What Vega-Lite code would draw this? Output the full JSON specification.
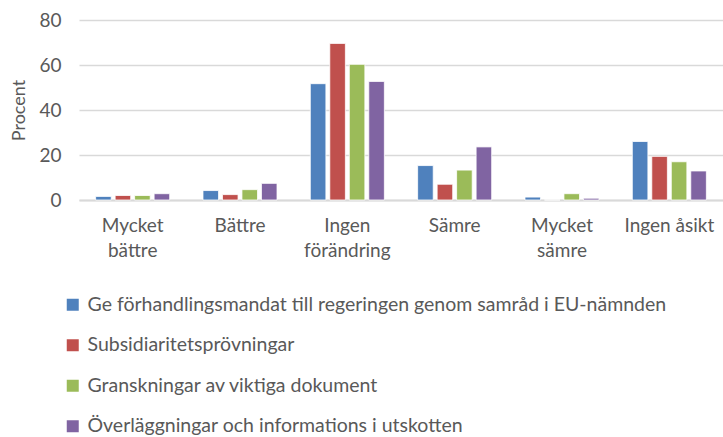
{
  "$schema": "https://vega.github.io/schema/vega-lite/v6.json",
  "width": 644,
  "height": 180,
  "autosize": {"type": "none"},
  "padding": {"left": 79, "top": 20, "right": 0, "bottom": 237},
  "background": "white",
  "config": {
    "font": "Lato",
    "view": {"stroke": null},
    "axis": {"labelFont": "Lato", "titleFont": "Lato", "labelColor": "#595959", "titleColor": "#595959"}
  },
  "data": {
    "values": [
      {"kategori": "Mycket bättre", "serie": "Ge förhandlingsmandat till regeringen genom samråd i EU-nämnden", "procent": 1.6},
      {"kategori": "Mycket bättre", "serie": "Subsidiaritetsprövningar", "procent": 2.0},
      {"kategori": "Mycket bättre", "serie": "Granskningar av viktiga dokument", "procent": 2.0},
      {"kategori": "Mycket bättre", "serie": "Överläggningar och informations i utskotten", "procent": 2.8},
      {"kategori": "Bättre", "serie": "Ge förhandlingsmandat till regeringen genom samråd i EU-nämnden", "procent": 4.2},
      {"kategori": "Bättre", "serie": "Subsidiaritetsprövningar", "procent": 2.4},
      {"kategori": "Bättre", "serie": "Granskningar av viktiga dokument", "procent": 4.6},
      {"kategori": "Bättre", "serie": "Överläggningar och informations i utskotten", "procent": 7.4},
      {"kategori": "Ingen förändring", "serie": "Ge förhandlingsmandat till regeringen genom samråd i EU-nämnden", "procent": 51.7},
      {"kategori": "Ingen förändring", "serie": "Subsidiaritetsprövningar", "procent": 69.6},
      {"kategori": "Ingen förändring", "serie": "Granskningar av viktiga dokument", "procent": 60.3},
      {"kategori": "Ingen förändring", "serie": "Överläggningar och informations i utskotten", "procent": 52.7},
      {"kategori": "Sämre", "serie": "Ge förhandlingsmandat till regeringen genom samråd i EU-nämnden", "procent": 15.3},
      {"kategori": "Sämre", "serie": "Subsidiaritetsprövningar", "procent": 7.0},
      {"kategori": "Sämre", "serie": "Granskningar av viktiga dokument", "procent": 13.3},
      {"kategori": "Sämre", "serie": "Överläggningar och informations i utskotten", "procent": 23.6},
      {"kategori": "Mycket sämre", "serie": "Ge förhandlingsmandat till regeringen genom samråd i EU-nämnden", "procent": 1.3},
      {"kategori": "Mycket sämre", "serie": "Subsidiaritetsprövningar", "procent": 0},
      {"kategori": "Mycket sämre", "serie": "Granskningar av viktiga dokument", "procent": 2.8},
      {"kategori": "Mycket sämre", "serie": "Överläggningar och informations i utskotten", "procent": 0.8},
      {"kategori": "Ingen åsikt", "serie": "Ge förhandlingsmandat till regeringen genom samråd i EU-nämnden", "procent": 26.0},
      {"kategori": "Ingen åsikt", "serie": "Subsidiaritetsprövningar", "procent": 19.4},
      {"kategori": "Ingen åsikt", "serie": "Granskningar av viktiga dokument", "procent": 17.0},
      {"kategori": "Ingen åsikt", "serie": "Överläggningar och informations i utskotten", "procent": 12.9}
    ]
  },
  "mark": {"type": "bar", "stroke": "white", "strokeWidth": 0.8},
  "encoding": {
    "x": {
      "field": "kategori",
      "type": "nominal",
      "sort": ["Mycket bättre", "Bättre", "Ingen förändring", "Sämre", "Mycket sämre", "Ingen åsikt"],
      "scale": {"paddingInner": 0.31, "paddingOuter": 0.155},
      "axis": {
        "title": null,
        "labelAngle": 0,
        "labelFontSize": 19,
        "labelPadding": 16,
        "labelLineHeight": 25,
        "labelBaseline": "top",
        "ticks": false,
        "domainColor": "#D9D9D9",
        "domainWidth": 2,
        "labelExpr": "datum.value == 'Ingen åsikt' ? datum.value : split(datum.value, ' ')"
      }
    },
    "xOffset": {
      "field": "serie",
      "type": "nominal",
      "sort": ["Ge förhandlingsmandat till regeringen genom samråd i EU-nämnden", "Subsidiaritetsprövningar", "Granskningar av viktiga dokument", "Överläggningar och informations i utskotten"],
      "scale": {"paddingInner": 0.2}
    },
    "y": {
      "field": "procent",
      "type": "quantitative",
      "scale": {"domain": [0, 80]},
      "axis": {
        "title": "Procent",
        "titleFontSize": 18,
        "titleFontWeight": "normal",
        "titlePadding": 10,
        "labelFontSize": 19,
        "labelPadding": 18,
        "values": [0, 20, 40, 60, 80],
        "domain": false,
        "ticks": false,
        "gridColor": "#D9D9D9",
        "gridWidth": 1.5
      }
    },
    "color": {
      "field": "serie",
      "type": "nominal",
      "sort": ["Ge förhandlingsmandat till regeringen genom samråd i EU-nämnden", "Subsidiaritetsprövningar", "Granskningar av viktiga dokument", "Överläggningar och informations i utskotten"],
      "scale": {"range": ["#4F81BD", "#C0504D", "#9BBB59", "#8064A2"]},
      "legend": {
        "title": null,
        "orient": "none",
        "direction": "vertical",
        "legendX": -16,
        "legendY": 275,
        "symbolType": "square",
        "symbolSize": 144,
        "symbolStrokeWidth": 0,
        "labelFontSize": 19.5,
        "labelColor": "#595959",
        "labelLimit": 700,
        "rowPadding": 19.5,
        "labelOffset": 5
      }
    }
  }
}
